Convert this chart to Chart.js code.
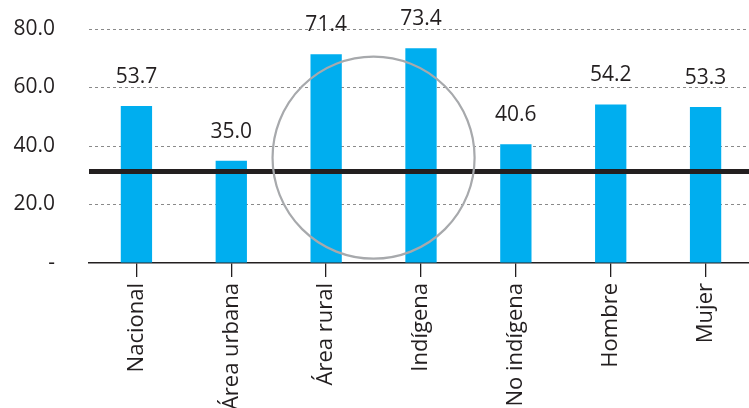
<!DOCTYPE html>
<html>
<head>
<meta charset="utf-8">
<script src="https://cdn.jsdelivr.net/npm/chart.js@4"></script>
<style>
  html, body { margin: 0; padding: 0; background: #fff; overflow: hidden; }
  #wrap { width: 755px; height: 408px; position: relative; }
</style>
</head>
<body>
<div id="wrap"><canvas id="myChart"></canvas></div>
<script>
// data
const categories = ["Nacional", "Área urbana", "Área rural", "Indígena", "No indígena", "Hombre", "Mujer"];
const values = [53.7, 35.0, 71.4, 73.4, 40.6, 54.2, 53.3];
const yTicks = [0, 20, 40, 60, 80];
const refLine = 31.3;          // thick reference line
const circleCenter = [2.5, 36]; // between Área rural and Indígena, in data units

const textColor = "#231f20";
const barColor = "#00aeef";
const font = "'Open Sans', sans-serif";

const overlay = {
  id: "overlay",
  afterDatasetsDraw(chart) {
    const { ctx, chartArea, scales } = chart;
    const x = scales.x, y = scales.y;
    ctx.save();

    // value labels
    ctx.fillStyle = textColor;
    ctx.font = "21px " + font;
    ctx.textAlign = "center";
    ctx.textBaseline = "alphabetic";
    chart.getDatasetMeta(0).data.forEach((bar, i) => {
      ctx.fillText(values[i].toFixed(1), bar.x, bar.y - 23);
    });

    // reference line
    const ly = y.getPixelForValue(refLine);
    ctx.strokeStyle = "#231f20";
    ctx.lineWidth = 5;
    ctx.beginPath();
    ctx.moveTo(chartArea.left, ly);
    ctx.lineTo(chartArea.right, ly);
    ctx.stroke();

    // highlight circle
    const step = x.getPixelForValue(1) - x.getPixelForValue(0);
    const cx = x.getPixelForValue(2) + step * (circleCenter[0] - 2);
    const cy = y.getPixelForValue(circleCenter[1]);
    ctx.strokeStyle = "#a7a9ac";
    ctx.lineWidth = 2.2;
    ctx.beginPath();
    ctx.arc(cx, cy, step * 1.065, 0, Math.PI * 2);
    ctx.stroke();

    ctx.restore();
  }
};

new Chart(document.getElementById("myChart"), {
  type: "bar",
  data: {
    labels: categories,
    datasets: [{
      data: values,
      backgroundColor: barColor,
      barPercentage: 0.66,
      categoryPercentage: 0.5,
    }],
  },
  plugins: [overlay],
  options: {
    responsive: true,
    maintainAspectRatio: false,
    animation: false,
    layout: { padding: { top: 29, right: 2, bottom: 0, left: 0 } },
    plugins: { legend: { display: false }, tooltip: { enabled: false } },
    scales: {
      x: {
        offset: true,
        grid: {
          offset: false,
          drawOnChartArea: false,
          drawTicks: true,
          tickLength: 14,
          color: textColor,
          lineWidth: 1.3,
        },
        border: { display: true, color: textColor, width: 1.5 },
        ticks: {
          autoSkip: false,
          minRotation: 90,
          maxRotation: 90,
          padding: 6,
          color: textColor,
          font: { family: font, size: 22 },
        },
        afterFit(scale) {
          scale.height = 145;
          scale.paddingTop = 0; scale.paddingBottom = 0;
          scale.paddingLeft = 0; scale.paddingRight = 0;
        },
      },
      y: {
        min: 0,
        max: 80,
        afterBuildTicks(scale) { scale.ticks = yTicks.map(v => ({ value: v })); },
        grid: {
          drawTicks: false,
          color: (c) => (c.tick && c.tick.value === 0 ? "rgba(0,0,0,0)" : "#8a8a8a"),
          lineWidth: 1,
        },
        border: { display: false, dash: [3, 3] },
        ticks: {
          padding: 34,
          color: textColor,
          font: { family: font, size: 21 },
          callback: (v) => (v === 0 ? "-" : v.toFixed(1)),
        },
        afterFit(scale) {
          scale.width = 89;
          scale.paddingTop = 0; scale.paddingBottom = 0;
        },
      },
    },
  },
});
</script>
</body>
</html>
